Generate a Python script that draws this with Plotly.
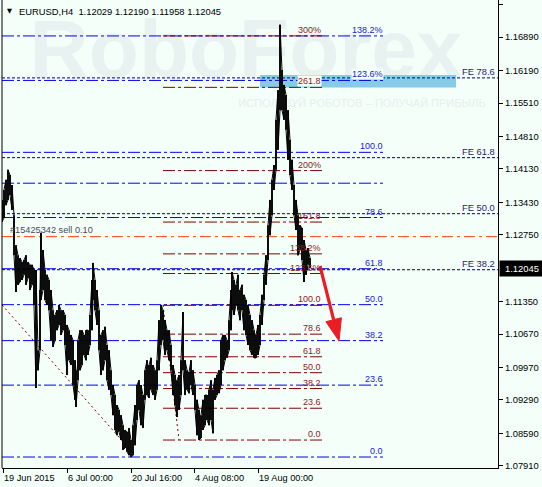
import plotly.graph_objects as go

# ---------------- data ----------------
bar_index = [0, 2, 4, 6, 8, 10, 12, 14, 16, 18, 20, 22, 24, 26, 28, 30, 32, 34, 36, 38, 39, 41, 43, 45, 47,
             49, 51, 53, 55, 57, 59, 61, 63, 65, 67, 69, 71, 73, 74, 76, 78, 80, 82, 84, 86, 88, 90, 91, 93,
             95, 97, 99, 101, 103, 105, 107, 109, 111, 113, 115, 117, 119, 121, 123, 125, 127, 129, 131, 133,
             135, 137, 139, 141, 143, 145, 147, 149, 151, 153, 155, 157, 159, 161, 163, 165, 167, 169, 171,
             173, 175, 177, 179, 181, 183, 185, 187, 189, 191, 193, 195, 197, 199, 201, 203, 205, 207, 209,
             211, 213, 215, 217, 219, 221, 223, 225, 227, 229, 230, 232, 234, 236, 238, 240, 242, 244, 246,
             248, 250, 252, 254, 256, 258, 260, 262, 264, 266, 268, 270, 272, 274, 276, 278, 280, 282, 284,
             286, 288, 290, 292, 294, 296, 298, 300, 302, 304, 306, 308]

bar_high = [1.1348, 1.1369, 1.1390, 1.1411, 1.1400, 1.1379, 1.1316, 1.1253, 1.1232, 1.1226, 1.1218, 1.1222,
            1.1232, 1.1218, 1.1212, 1.1212, 1.1201, 1.1201, 1.1033, 1.1159, 1.1279, 1.1243, 1.1201, 1.1191,
            1.1180, 1.1159, 1.1117, 1.1107, 1.1117, 1.1128, 1.1117, 1.1117, 1.1107, 1.1086, 1.1075, 1.1065,
            1.1054, 1.1012, 1.0991, 1.1054, 1.1075, 1.1075, 1.1065, 1.1075, 1.1075, 1.1107, 1.1180, 1.1216,
            1.1180, 1.1159, 1.1117, 1.1065, 1.1075, 1.1082, 1.1044, 1.1033, 1.0991, 1.0960, 1.0939, 1.0918,
            1.0908, 1.0897, 1.0876, 1.0866, 1.0862, 1.0870, 1.0845, 1.0876, 1.0918, 1.0960, 1.0970, 1.0960,
            1.0939, 1.0991, 1.1012, 1.1002, 1.1017, 1.1002, 1.0991, 1.1012, 1.1096, 1.1128, 1.1117, 1.1096,
            1.1075, 1.1075, 1.1044, 1.1002, 1.0981, 1.0970, 1.0981, 1.1012, 1.1113, 1.1012, 1.0991, 1.0987,
            1.1012, 1.0991, 1.0960, 1.0929, 1.0908, 1.0897, 1.0929, 1.0939, 1.0939, 1.0950, 1.0970, 1.0950,
            1.0975, 1.0981, 1.0991, 1.1054, 1.1065, 1.1065, 1.1054, 1.1096, 1.1159, 1.1197, 1.1180, 1.1170,
            1.1191, 1.1159, 1.1170, 1.1149, 1.1138, 1.1128, 1.1107, 1.1096, 1.1075, 1.1065, 1.1086, 1.1107,
            1.1149, 1.1191, 1.1232, 1.1295, 1.1348, 1.1390, 1.1421, 1.1516, 1.1578, 1.1715, 1.1620, 1.1589,
            1.1568, 1.1536, 1.1474, 1.1432, 1.1379, 1.1348, 1.1316, 1.1295, 1.1289, 1.1264, 1.1243, 1.1247,
            1.1226]

bar_low = [1.1302, 1.1310, 1.1337, 1.1348, 1.1358, 1.1327, 1.1232, 1.1155, 1.1170, 1.1176, 1.1180, 1.1191,
           1.1170, 1.1184, 1.1159, 1.1170, 1.1128, 1.0954, 1.0991, 1.1033, 1.1138, 1.1159, 1.1138, 1.1128,
           1.1117, 1.1054, 1.1040, 1.1054, 1.1075, 1.1086, 1.1065, 1.1075, 1.1044, 1.0981, 1.1012, 1.1002,
           1.0960, 1.0929, 1.0914, 1.0970, 1.0991, 1.1002, 1.1023, 1.1012, 1.1023, 1.1044, 1.1075, 1.1138,
           1.1117, 1.1086, 1.1033, 1.0981, 1.0991, 1.1012, 1.0970, 1.0950, 1.0939, 1.0897, 1.0866, 1.0855,
           1.0862, 1.0845, 1.0824, 1.0828, 1.0820, 1.0813, 1.0809, 1.0813, 1.0834, 1.0887, 1.0908, 1.0876,
           1.0870, 1.0929, 1.0939, 1.0933, 1.0950, 1.0939, 1.0929, 1.0950, 1.0991, 1.1044, 1.1054, 1.1023,
           1.1033, 1.1012, 1.0991, 1.0939, 1.0918, 1.0893, 1.0908, 1.0939, 1.0991, 1.0939, 1.0950, 1.0943,
           1.0960, 1.0939, 1.0908, 1.0855, 1.0845, 1.0849, 1.0866, 1.0876, 1.0887, 1.0876, 1.0887, 1.0859,
           1.0929, 1.0939, 1.0943, 1.0960, 1.0991, 1.1012, 1.1017, 1.1033, 1.1075, 1.1117, 1.1107, 1.1128,
           1.1117, 1.1096, 1.1117, 1.1075, 1.1065, 1.1044, 1.1033, 1.1023, 1.1017, 1.1017, 1.1023, 1.1044,
           1.1086, 1.1138, 1.1170, 1.1222, 1.1274, 1.1316, 1.1369, 1.1411, 1.1453, 1.1536, 1.1536, 1.1516,
           1.1495, 1.1432, 1.1400, 1.1369, 1.1316, 1.1285, 1.1232, 1.1243, 1.1222, 1.1176, 1.1191, 1.1212,
           1.1205]

# Fibonacci retracement (blue)
retr_levels = [0.0, 23.6, 38.2, 50.0, 61.8, 78.6, 100.0, 123.6, 138.2]
retr_labels = ["0.0", "23.6", "38.2", "50.0", "61.8", "78.6", "100.0", "123.6%", "138.2%"]
retr_low, retr_high = 1.08092, 1.14477
retr_extra = 1.1383

# Fibonacci expansion (dark red)
exp_levels = [0.0, 23.6, 38.2, 50.0, 61.8, 78.6, 100.0, 123.6, 138.2, 161.8, 200.0, 261.8, 300.0]
exp_labels = ["0.0", "23.6", "38.2", "50.0", "61.8", "78.6", "100.0", "123.6%", "138.2%", "161.8",
              "200%", "261.8", "300%"]
exp_low, exp_high = 1.08448, 1.11271

# FE levels (navy dotted)
fe_levels = [38.2, 50.0, 61.8, 78.6]
fe_labels = ["FE 38.2", "FE 50.0", "FE 61.8", "FE 78.6"]
fe_base, fe_span = 1.08216, 0.0995

order_price = 1.1271
order_text = "#15425342 sell 0.10"
current_price = 1.12045
zone_top, zone_bottom = 1.16097, 1.15835
trend1 = ([0, 130], [1.1128, 1.0820])
trend2 = ([161, 177], [1.1128, 1.0845])

price_ticks = [1.07910, 1.08590, 1.09290, 1.09970, 1.10670, 1.11350, 1.12750, 1.13430,
               1.14130, 1.14810, 1.15510, 1.16190, 1.16890, 1.17570]
date_ticks = [1, 65, 129, 192, 256]
date_labels = ["19 Jun 2015", "6 Jul 00:00", "20 Jul 16:00", "4 Aug 08:00", "19 Aug 00:00"]
title_text = "EURUSD,H4\u00a0\u00a01.12029 1.12190 1.11958 1.12045"

# ---------------- styling ----------------
FONT = "Liberation Sans, Arial, sans-serif"
BG = "#f4fffa"
BLUE = "#0000ee"
BROWN = "#800000"
NAVY = "#00007f"
Y_MIN, Y_MAX = 1.07862, 1.17669
X_MAX = 496

assert len(bar_index) == len(bar_high) == len(bar_low)

fig = go.Figure()

# watermark (under everything drawn as traces)
fig.add_trace(go.Scatter(x=[244], y=[1.16480], mode="text", text=["<b>RoboForex</b>"],
                         textfont=dict(family=FONT, size=82, color="#e7f2f1"),
                         hoverinfo="skip", showlegend=False, cliponaxis=False))
fig.add_trace(go.Scatter(x=[360], y=[1.15490], mode="text",
                         text=["ИСПОЛЬЗУЙ РОБОТОВ – ПОЛУЧАЙ ПРИБЫЛЬ"],
                         textfont=dict(family=FONT, size=11, color="#e4efee"),
                         hoverinfo="skip", showlegend=False))

# highlighted zone
fig.add_trace(go.Scatter(x=[258, 454, 454, 258, 258],
                         y=[zone_top, zone_top, zone_bottom, zone_bottom, zone_top],
                         mode="lines", fill="toself", fillcolor="#86cbe8",
                         line=dict(width=0), hoverinfo="skip", showlegend=False))


def hlines(prices, x0, x1, color, dash):
    xs, ys = [], []
    for p in prices:
        xs += [x0, x1, None]
        ys += [p, p, None]
    fig.add_trace(go.Scatter(x=xs, y=ys, mode="lines",
                             line=dict(color=color, width=1, dash=dash),
                             hoverinfo="skip", showlegend=False))


retr_prices = [retr_low + (retr_high - retr_low) * r / 100 for r in retr_levels]
exp_prices = [exp_low + (exp_high - exp_low) * r / 100 for r in exp_levels]
fe_prices = [fe_base + fe_span * r / 100 for r in fe_levels]

hlines(fe_prices, 0, X_MAX, NAVY, "3px,2px")
hlines(retr_prices + [retr_extra], 0, 381, BLUE, "12px,3px,3px,3px")
hlines(exp_prices, 161, 320, BROWN, "12px,3px,3px,3px")
hlines([order_price], 0, X_MAX, "#ff4500", "11px,4px,3px,4px")

for tx, ty in (trend1, trend2):
    fig.add_trace(go.Scatter(x=tx, y=ty, mode="lines",
                             line=dict(color=BROWN, width=1, dash="2px,3px"),
                             hoverinfo="skip", showlegend=False))

# price: one vertical high-low bar per sample
bx, by = [], []
for b, h, l in zip(bar_index, bar_high, bar_low):
    bx += [b, b, None]
    by += [h, l, None]
fig.add_trace(go.Scatter(x=bx, y=by, mode="lines",
                         line=dict(color="black", width=1.8),
                         hoverinfo="skip", showlegend=False))
# thin connecting line between consecutive bars
cx, cy = [], []
for i, (b, h, l) in enumerate(zip(bar_index, bar_high, bar_low)):
    cx += [b, b]
    cy += [h, l] if i % 2 == 0 else [l, h]
fig.add_trace(go.Scatter(x=cx, y=cy, mode="lines",
                         line=dict(color="black", width=1),
                         hoverinfo="skip", showlegend=False))

annotations = []
for p, t in zip(retr_prices, retr_labels):
    annotations.append(dict(x=382, y=p, xref="x", yref="y", text=t, showarrow=False,
                            xanchor="right", yanchor="middle", yshift=6,
                            font=dict(family=FONT, size=9, color="#1a1ad0"),
                            bgcolor=BG if t == "123.6%" else None, borderpad=0))
for p, t in zip(exp_prices, exp_labels):
    annotations.append(dict(x=320, y=p, xref="x", yref="y", text=t, showarrow=False,
                            xanchor="right", yanchor="middle", yshift=6,
                            font=dict(family=FONT, size=9, color="#8b1a1a"),
                            bgcolor=BG if t == "261.8" else None, borderpad=0))
for p, t in zip(fe_prices, fe_labels):
    annotations.append(dict(x=495, y=p, xref="x", yref="y", text=t, showarrow=False,
                            xanchor="right", yanchor="middle", yshift=6,
                            font=dict(family=FONT, size=9.4, color="#2e1a6e")))
annotations.append(dict(x=6, y=order_price, xref="x", yref="y", text=order_text, showarrow=False,
                        xanchor="left", yanchor="middle", yshift=7,
                        font=dict(family=FONT, size=9.2, color="#4a4a5a")))
annotations.append(dict(x=1, y=current_price, xref="paper", yref="y", text="1.12045",
                        showarrow=False, xanchor="left", yanchor="middle", xshift=1,
                        bgcolor="black", width=42, height=13,
                        font=dict(family=FONT, size=9.4, color="white")))
for d, t in zip(date_ticks, date_labels):
    annotations.append(dict(x=d, y=-0.021, xref="x", yref="paper", text=t, showarrow=False,
                            xanchor="left", yanchor="middle", xshift=-1,
                            font=dict(family=FONT, size=9.2, color="black")))
annotations.append(dict(x=3, y=0.976, xref="x", yref="paper", text="▼", showarrow=False,
                        xanchor="left", yanchor="middle",
                        font=dict(family="DejaVu Sans", size=6.5, color="black")))
annotations.append(dict(x=15, y=0.976, xref="x", yref="paper", text=title_text, showarrow=False,
                        xanchor="left", yanchor="middle",
                        font=dict(family=FONT, size=9.4, color="black")))

shapes = [
    dict(type="line", xref="paper", yref="paper", x0=0, x1=0, y0=0, y1=1,
         line=dict(color="black", width=1)),
    dict(type="line", xref="x", yref="y", x0=318, y0=1.12095, x1=331.6, y1=1.10969,
         line=dict(color="#ec1c24", width=3.2)),
    dict(type="path", xref="x", yref="y",
         path="M 337 1.10523 L 339.4 1.11011 L 323.9 1.10928 Z",
         fillcolor="#ec1c24", line=dict(color="#ec1c24", width=1)),
]

fig.update_layout(
    width=542, height=487, autosize=False,
    margin=dict(l=2, r=44, t=0, b=19, pad=0),
    plot_bgcolor=BG, paper_bgcolor=BG,
    showlegend=False,
    annotations=annotations, shapes=shapes,
    xaxis=dict(range=[0, X_MAX], showgrid=False, zeroline=False, showline=True,
               linecolor="black", linewidth=1, ticks="outside", ticklen=4, tickcolor="black",
               tickvals=date_ticks, showticklabels=False, fixedrange=True),
    yaxis=dict(range=[Y_MIN, Y_MAX], side="right", showgrid=False, zeroline=False, showline=True,
               linecolor="black", linewidth=1, ticks="outside", ticklen=4, tickcolor="black",
               tickvals=price_ticks, tickformat=".5f",
               tickfont=dict(family=FONT, size=9.4, color="black"), fixedrange=True),
)

fig.write_html("out.html", config={"displayModeBar": False, "staticPlot": True},
               post_script="document.body.style.margin='0';document.body.style.background='" + BG + "';")
